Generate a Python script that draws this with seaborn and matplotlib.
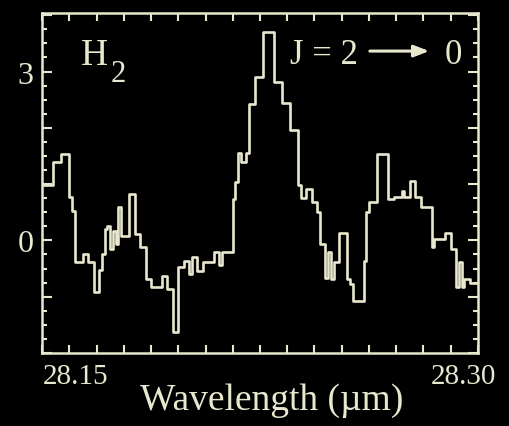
import numpy as np
import matplotlib
matplotlib.use("Agg")
import matplotlib.pyplot as plt
import matplotlib.transforms as mtransforms
from matplotlib.ticker import MultipleLocator
import seaborn as sns

# ---- data ----
wl_start = 28.1405      # first bin centre (micron)
wl_step = 0.001         # bin width (micron)
flux = [
    0.99, 0.99, 0.99, 0.99, 1.39, 1.39, 1.39, 1.53, 1.53, 1.53,
    0.78, 0.52, -0.39, -0.39, -0.39, -0.25, -0.25, -0.39, -0.39, -0.91,
    -0.91, -0.52, -0.25, 0.20, 0.25, -0.16, 0.16, -0.07, 0.60, 0.07,
    0.07, 0.07, 0.82, 0.82, 0.11, 0.11, -0.11, -0.11, -0.69, -0.69,
    -0.83, -0.83, -0.83, -0.83, -0.64, -0.64, -0.87, -0.87, -1.63, -1.63,
    -0.48, -0.48, -0.37, -0.37, -0.60, -0.30, -0.30, -0.55, -0.55, -0.39,
    -0.39, -0.39, -0.39, -0.21, -0.21, -0.43, -0.21, -0.21, -0.21, -0.21,
    0.73, 1.03, 1.56, 1.39, 1.39, 1.56, 2.42, 2.42, 2.90, 2.90,
    2.90, 3.71, 3.71, 3.71, 3.71, 2.82, 2.82, 2.82, 2.45, 2.45,
    2.45, 1.97, 1.97, 1.97, 0.99, 0.76, 0.76, 0.91, 0.91, 0.69,
    0.69, 0.50, -0.07, -0.07, -0.66, -0.20, -0.69, -0.39, -0.39, 0.14,
    0.14, 0.14, -0.69, -0.78, -1.08, -1.08, -1.08, -1.08, -0.37, 0.50,
    0.69, 0.69, 0.69, 1.53, 1.53, 1.53, 1.53, 0.73, 0.73, 0.78,
    0.78, 0.78, 0.87, 0.78, 0.78, 1.05, 1.05, 0.78, 0.78, 0.60,
    0.60, 0.60, 0.60, -0.12, 0.02, 0.02, 0.02, 0.02, 0.14, 0.14,
    -0.16, -0.16, -0.83, -0.39, -0.83, -0.69, -0.69, -0.75, -0.75, -0.75,
]
wavelength = wl_start + wl_step * np.arange(len(flux))

x_ticks = [28.15, 28.30]
x_tick_labels = ["28.15", "28.30"]
y_ticks = [-2, -1, 0, 1, 2, 3, 4]
y_tick_labels = ["", "", "0", "", "", "3", ""]
species = "H"
species_sub = "2"
transition_left = "J = 2"
transition_right = "0"
x_label = "Wavelength (µm)"

# ---- style ----
fg = "#e8e8cf"
sns.set_style("dark", {"axes.facecolor": "black", "figure.facecolor": "black"})
plt.rcParams["font.family"] = ["Liberation Serif", "DejaVu Serif"]

fig = plt.figure(figsize=(5.10, 4.27), dpi=100)
ax = fig.add_axes([42 / 510, 73 / 427, 436 / 510, 340 / 427])
ax.set_facecolor("black")
fig.patch.set_facecolor("black")

sns.lineplot(x=wavelength, y=flux, ax=ax, drawstyle="steps-mid",
             color=fg, linewidth=1.9, estimator=None)

ax.set_xlim(28.14, 28.30)
ax.set_ylim(-2.0, 4.04)
ax.grid(False)

for sp in ax.spines.values():
    sp.set_visible(True)
    sp.set_color(fg)
    sp.set_linewidth(1.8)

ax.set_xticks(x_ticks, labels=x_tick_labels)
ax.xaxis.set_minor_locator(MultipleLocator(0.01))
ax.set_yticks(y_ticks, labels=y_tick_labels)
ax.yaxis.set_minor_locator(MultipleLocator(0.25))

ax.tick_params(axis="x", which="both", direction="in", top=True, bottom=True,
               length=6, width=1.5, color=fg, labelcolor=fg, labelsize=21, pad=7)
ax.tick_params(axis="y", which="major", direction="in", left=True, right=True,
               length=7, width=1.5, color=fg, labelcolor=fg, labelsize=23, pad=6)
ax.tick_params(axis="y", which="minor", direction="in", left=True, right=True,
               length=3.5, width=1.5, color=fg)

# nudge the x tick labels as in the original figure
shifts = [0.06, -0.15]
for lab, dx in zip(ax.get_xticklabels(), shifts):
    lab.set_transform(lab.get_transform() +
                      mtransforms.ScaledTranslation(dx, 0, fig.dpi_scale_trans))

ax.set_xlabel(x_label, color=fg, fontsize=27)
ax.xaxis.label.set_va("baseline")
ax.xaxis.set_label_coords(0.5275, -0.165)
ax.set_ylabel("")

# annotations
ax.text(0.1204, 0.85, species, transform=ax.transAxes, color=fg,
        fontsize=27, ha="center", va="baseline")
ax.text(0.1755, 0.80, species_sub, transform=ax.transAxes, color=fg,
        fontsize=22, ha="center", va="baseline")
ax.text(0.569, 0.853, transition_left, transform=ax.transAxes, color=fg,
        fontsize=25, ha="left", va="baseline")
ax.text(0.924, 0.853, transition_right, transform=ax.transAxes, color=fg,
        fontsize=25, ha="left", va="baseline")
ax.annotate("", xy=(0.888, 0.888), xytext=(0.752, 0.888),
            xycoords="axes fraction", textcoords="axes fraction",
            arrowprops=dict(arrowstyle="-|>,head_length=0.9,head_width=0.35",
                            color=fg, lw=2.2, shrinkA=0, shrinkB=0))

fig.savefig("out.png", dpi=100, facecolor="black")
